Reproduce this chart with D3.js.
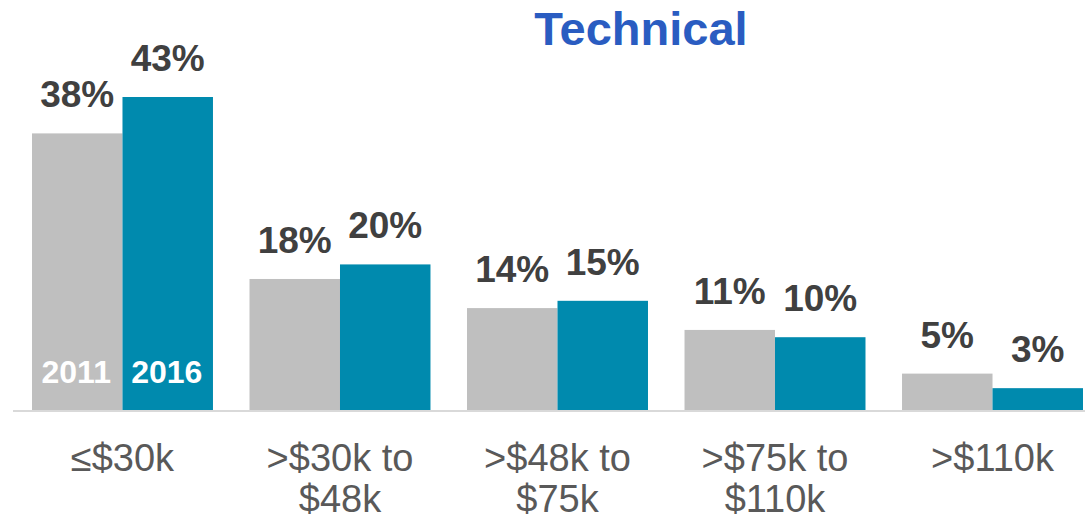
<!DOCTYPE html>
<html lang="en">
<head>
    <meta charset="UTF-8">
    <title>Technical</title>
    <script src="https://d3js.org/d3.v7.min.js"></script>
    <style>
        body {
            margin: 0;
            overflow: hidden;
            background-color: #fff;
            font-family: "Liberation Sans", Arial, sans-serif;
        }
        .title {
            font-size: 47px;
            font-weight: bold;
            fill: #2a5cc1;
        }
        .value {
            font-size: 37px;
            font-weight: bold;
            fill: #404040;
        }
        .year {
            font-size: 32px;
            font-weight: bold;
            fill: #fff;
        }
        .cat {
            font-size: 38px;
            fill: #595959;
        }
    </style>
</head>
<body>
    <svg width="1085" height="520"></svg>
    <script>
        // data
        const categories = [["≤$30k"], [">$30k to", "$48k"], [">$48k to", "$75k"], [">$75k to", "$110k"], [">$110k"]];
        const years = ["2011", "2016"];
        const values2011 = [38, 18, 14, 11, 5];
        const values2016 = [43, 20, 15, 10, 3];
        const colors = ["#bfbfbf", "#008aae"];

        const svg = d3.select("svg"),
              width = 1085,
              height = 520;

        const baseline = 410;

        const x0 = d3.scaleBand()
            .domain(d3.range(categories.length))
            .range([32, 1083])
            .paddingInner(0.168)
            .paddingOuter(0);

        const x1 = d3.scaleBand()
            .domain(years)
            .range([0, x0.bandwidth()]);

        const y = d3.scaleLinear()
            .domain([0, 43])
            .range([baseline, 97]);

        const rows = categories.map((c, i) => ({
            i: i,
            vals: [
                { year: years[0], v: values2011[i] },
                { year: years[1], v: values2016[i] }
            ]
        }));

        // title
        svg.append("text")
            .attr("class", "title")
            .attr("x", 641)
            .attr("y", 45)
            .attr("text-anchor", "middle")
            .text("Technical");

        // baseline
        svg.append("line")
            .attr("x1", 13)
            .attr("x2", width)
            .attr("y1", baseline + 1)
            .attr("y2", baseline + 1)
            .attr("stroke", "#d9d9d9")
            .attr("stroke-width", 2);

        const group = svg.append("g")
            .selectAll("g")
            .data(rows)
            .enter().append("g")
            .attr("transform", d => `translate(${x0(d.i)},0)`);

        group.selectAll("rect")
            .data(d => d.vals)
            .enter().append("rect")
            .attr("x", d => x1(d.year))
            .attr("y", d => y(d.v))
            .attr("width", x1.bandwidth())
            .attr("height", d => baseline - y(d.v))
            .attr("fill", (d, j) => colors[j]);

        group.selectAll("text.value")
            .data(d => d.vals)
            .enter().append("text")
            .attr("class", "value")
            .attr("x", d => x1(d.year) + x1.bandwidth() / 2)
            .attr("y", d => y(d.v) - 26)
            .attr("text-anchor", "middle")
            .text(d => d.v + "%");

        // year labels inside the first pair of bars
        svg.append("g")
            .selectAll("text")
            .data(years)
            .enter().append("text")
            .attr("class", "year")
            .attr("x", d => x0(0) + x1(d) + x1.bandwidth() / 2 - 1)
            .attr("y", 383)
            .attr("text-anchor", "middle")
            .text(d => d);

        // category labels
        const cat = svg.append("g")
            .selectAll("text")
            .data(categories)
            .enter().append("text")
            .attr("class", "cat")
            .attr("text-anchor", "middle")
            .attr("x", (d, i) => x0(i) + x0.bandwidth() / 2)
            .attr("y", 471);

        cat.selectAll("tspan")
            .data(d => d)
            .enter().append("tspan")
            .attr("x", function() { return this.parentNode.getAttribute("x"); })
            .attr("dy", (d, k) => k === 0 ? 0 : 41)
            .text(d => d);
    </script>
</body>
</html>
